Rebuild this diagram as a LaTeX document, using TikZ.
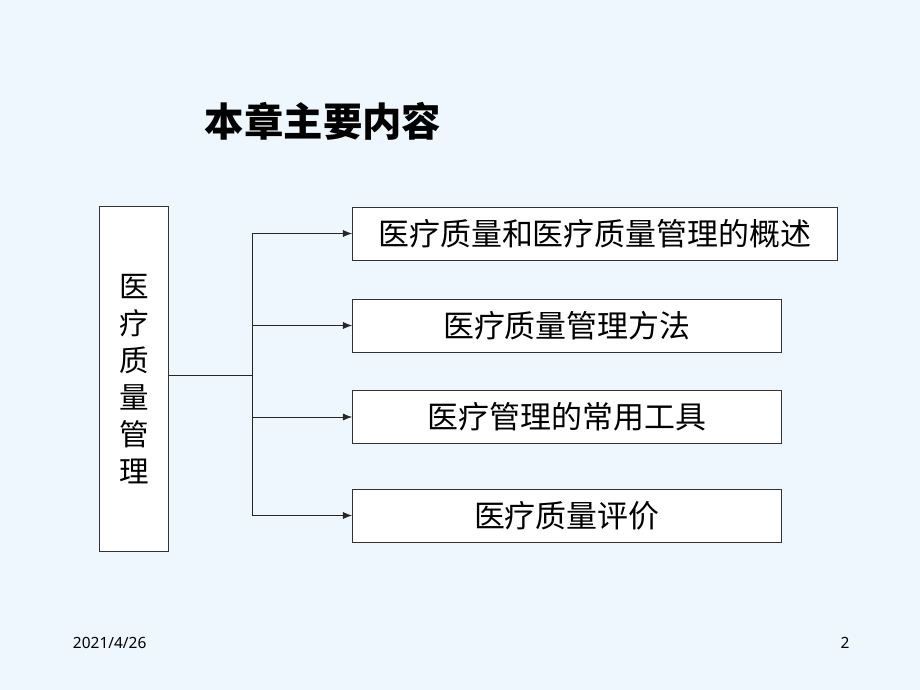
\documentclass[tikz,border=0pt]{standalone}
\usepackage{fontspec}
\setmainfont{Noto Sans}
\newfontfamily\cjk{Noto Sans CJK SC}
\usepackage{xcolor}
\usetikzlibrary{arrows.meta, positioning}

\definecolor{slidebg}{HTML}{EEF6FE}

\begin{document}
\begin{tikzpicture}[
  x=0.025cm, y=-0.025cm,
  box/.style={draw=black!80, fill=white, minimum width=10.725cm, minimum height=1.33cm, anchor=west, inner sep=0pt, font=\cjk\fontsize{22}{26}\selectfont},
  every edge/.style={draw, -{Latex[length=6.5pt,width=5pt]}, black!85}
]
  \fill[slidebg] (0,0) rectangle (920,690);
  \useasboundingbox (0,0) rectangle (920,690);

  \node[font=\cjk\bfseries\fontsize{28}{32}\selectfont] (title) at (323,121) {本章主要内容};

  \node[draw=black!80, fill=white, minimum width=1.725cm, minimum height=8.625cm, inner sep=0pt, align=center,
        font=\cjk\fontsize{21}{26.2}\selectfont] (qm) at (134,379) {医\\疗\\质\\量\\管\\理};

  \node[box, minimum width=12.125cm] (overview) at (352,233.5) {医疗质量和医疗质量管理的概述};
  \node[box] (method) at (352,325.5) {医疗质量管理方法};
  \node[box] (tools) at (352,417) {医疗管理的常用工具};
  \node[box] (evaluate) at (352,515.5) {医疗质量评价};

  % trunk from the left box, then one branch per topic
  \coordinate (hub) at (252,375);
  \draw[black!85] (qm.east |- hub) -- (hub);
  \draw[black!85] (hub |- overview.west) -- (hub |- evaluate.west);
  \path (hub |- overview.west) edge (overview.west)
        (hub |- method.west) edge (method.west)
        (hub |- tools.west) edge (tools.west)
        (hub |- evaluate.west) edge (evaluate.west);

  \node[anchor=west, font=\fontsize{11}{13}\selectfont] (date) at (68,643) {2021/4/26};
  \node[font=\fontsize{11}{13}\selectfont] (page) at (845,643) {2};
\end{tikzpicture}
\end{document}
